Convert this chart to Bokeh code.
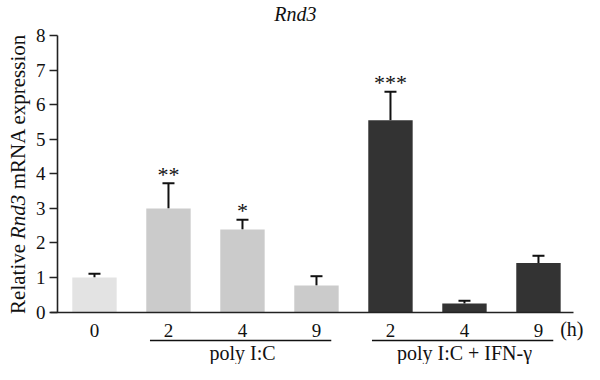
from bokeh.plotting import figure
from bokeh.models import (ColumnDataSource, Whisker, TeeHead, Label, Arrow,
                          FixedTicker, Range1d)
from bokeh.core.properties import value
from bokeh.embed import file_html
from bokeh.resources import INLINE
import math

# ---- data ----
hours = ["0", "2", "4", "9", "2", "4", "9"]
means = [1.00, 3.00, 2.39, 0.77, 5.55, 0.25, 1.42]
sems = [0.11, 0.73, 0.28, 0.27, 0.82, 0.08, 0.21]
signif = ["", "**", "*", "", "***", "", ""]
bar_colors = ["#e3e3e3", "#cbcbcb", "#cbcbcb", "#cbcbcb", "#333333", "#333333", "#333333"]
groups = ["poly I:C", "poly I:C + IFN-\u03b3"]
group_members = [[1, 2, 3], [4, 5, 6]]
y_ticks = [0, 1, 2, 3, 4, 5, 6, 7, 8]

FONT = "Liberation Serif"
INK = "#111111"
xs = list(range(len(hours)))
upper = [m + s for m, s in zip(means, sems)]

src = ColumnDataSource(dict(x=xs, top=means, upper=upper, color=bar_colors, sig=signif))

# frame covers whole canvas; axes are pinned with fixed_location
p = figure(width=584, height=364, output_backend="svg", toolbar_location=None,
           x_range=Range1d(-1.270, 6.622), y_range=Range1d(-1.512, 9.009),
           min_border=0)
p.title.visible = False
p.outline_line_color = None
p.grid.visible = False
p.background_fill_color = "white"
p.border_fill_color = "white"

p.vbar(x="x", top="top", width=0.6, bottom=0, color="color", line_color=None, source=src)

wh = Whisker(base="x", lower="top", upper="upper", source=src,
             line_color=INK, line_width=2,
             upper_head=TeeHead(size=12, line_color=INK, line_width=2),
             lower_head=None)
p.add_layout(wh)

p.text(x="x", y="upper", text="sig", source=src, text_font=value(FONT),
       text_font_size="22px", text_align="center", text_baseline="alphabetic",
       y_offset=-9, text_color=INK)

# y axis
ax = p.yaxis[0]
ax.fixed_location = -0.5
ax.bounds = (0, 8)
ax.ticker = FixedTicker(ticks=y_ticks)
ax.major_tick_out = 8
ax.major_tick_in = 0
ax.minor_tick_line_color = None
ax.major_label_standoff = 4
ax.major_label_text_font = FONT
ax.major_label_text_font_size = "19px"
ax.major_label_text_color = INK
ax.axis_line_color = "#222222"
ax.axis_line_width = 1.6
ax.major_tick_line_color = "#222222"
ax.major_tick_line_width = 1.6

# x axis
bx = p.xaxis[0]
bx.fixed_location = 0
bx.bounds = (-0.595, 6.47)
bx.ticker = FixedTicker(ticks=xs)
bx.major_label_overrides = {i: h for i, h in enumerate(hours)}
bx.major_tick_line_color = None
bx.minor_tick_line_color = None
bx.major_label_standoff = 6
bx.major_label_text_font = FONT
bx.major_label_text_font_size = "19px"
bx.major_label_text_color = INK
bx.axis_line_color = "#222222"
bx.axis_line_width = 1.6

# "(h)" unit label
p.add_layout(Label(x=6.608, y=-0.477, text="(h)", text_font=FONT, text_font_size="20px",
                   text_align="right", text_baseline="middle", text_color=INK))

# group underlines and labels
for name, mem in zip(groups, group_members):
    p.add_layout(Arrow(end=None, x_start=mem[0] - 0.25, x_end=mem[-1] + 0.2,
                       y_start=-0.818, y_end=-0.818, line_color=INK, line_width=1.5))
    p.add_layout(Label(x=sum(mem) / len(mem), y=-1.17, text=name, text_font=FONT,
                       text_font_size="20px", text_align="center",
                       text_baseline="middle", text_color=INK))

# title
p.add_layout(Label(x=2.716, y=8.63, text="Rnd3", text_font=FONT, text_font_style="italic",
                   text_font_size="20px", text_align="center", text_baseline="middle",
                   text_color=INK))

# y axis label in three parts (with italic gene name)
ylab_x = -1.027
parts = [("Relative", "normal", -0.05), ("Rnd3", "italic", 2.11), ("mRNA expression", "normal", 3.55)]
for txt, style, y0 in parts:
    p.add_layout(Label(x=ylab_x, y=y0, text=txt, text_font=FONT, text_font_style=style,
                       text_font_size="21px", angle=math.pi / 2, text_align="left",
                       text_baseline="middle", text_color=INK))

open("out.html", "w").write(file_html(p, INLINE))
